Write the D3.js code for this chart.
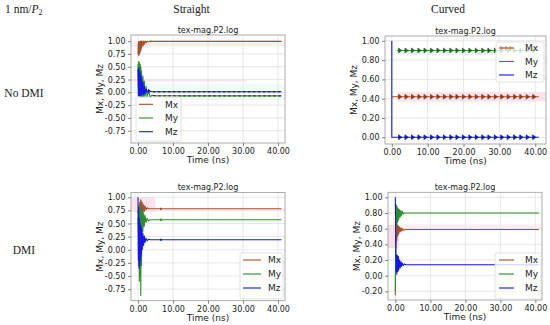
<!DOCTYPE html>
<html><head><meta charset="utf-8">
<script src="https://cdn.jsdelivr.net/npm/d3@7"></script>
<style>html,body{margin:0;padding:0;background:#fff;}svg{display:block;}</style>
</head><body>
<svg id="c" width="550" height="325"></svg>
<script>
// ---------- DATA ----------
const seriesNames = ["Mx", "My", "Mz"];
const colLabels = ["Straight", "Curved"];
const rowLabels = ["No DMI", "DMI"];
const xTicks = [0, 10, 20, 30, 40];
const yTicksStraight = [-0.75, -0.5, -0.25, 0, 0.25, 0.5, 0.75, 1.0];
const yTicksCurvedTop = [0, 0.2, 0.4, 0.6, 0.8, 1.0];
const yTicksCurvedBottom = [-0.2, 0, 0.2, 0.4, 0.6, 0.8, 1.0];

// shared sampling times (ns) for the oscillating series
const timeSteps = [0, 0.1, 0.2, 0.3, 0.4, 0.5, 0.6, 0.7, 0.8, 0.9, 1.0, 1.2, 1.4, 1.6, 1.8, 2.0, 2.3, 2.6, 3.0, 3.5, 4.0, 5.0, 41.0];

// Straight, no DMI
const tlMx = [0.75, 0.98, 0.72, 0.99, 0.74, 0.99, 0.78, 1.0, 0.82, 1.0, 0.86, 1.0, 0.9, 1.0, 0.94, 1.0, 0.97, 1.0, 0.99, 1.0, 0.995, 0.995, 0.995];
const tlMy = [0.55, 0.1, 0.6, 0.0, 0.58, -0.05, 0.55, -0.08, 0.5, -0.1, 0.42, -0.1, 0.32, -0.1, 0.22, -0.1, 0.12, -0.1, 0.03, -0.09, -0.06, -0.07, -0.07];
const tlMz = [0.45, -0.07, 0.48, -0.07, 0.42, -0.07, 0.38, -0.06, 0.33, -0.05, 0.28, -0.05, 0.2, -0.04, 0.12, -0.03, 0.07, 0.0, 0.05, 0.02, 0.01, 0.01, 0.01];

// Curved, no DMI
const trMxT = [0, 41], trMxV = [0.42, 0.42];
const trMyT = [1.5, 41], trMyV = [0.9, 0.9];
const trMzT = [0, 0, 41], trMzV = [1.0, 0.0, 0.0];
const trMarkerTimes = [2.3, 4.1, 5.9, 7.7, 9.4, 11.2, 13.0, 14.8, 16.6, 18.3, 20.1, 21.9, 23.7, 25.5, 27.2, 29.0, 30.8, 32.6, 34.4, 36.1, 37.9, 39.7];

// Straight, DMI
const blMx = [0.7, 0.75, 0.65, 0.85, 0.6, 0.9, 0.58, 0.95, 0.6, 0.93, 0.65, 0.9, 0.7, 0.86, 0.73, 0.83, 0.76, 0.8, 0.78, 0.78, 0.78, 0.78, 0.78];
const blMy = [0.6, 0.3, -0.3, 0.6, -0.6, 0.75, -0.5, 0.85, -0.87, 0.8, -0.3, 0.75, 0.35, 0.7, 0.45, 0.65, 0.52, 0.6, 0.55, 0.57, 0.57, 0.57, 0.57];
const blMz = [1.0, -0.2, 0.8, -0.35, 0.6, -0.3, 0.5, -0.2, 0.45, -0.1, 0.4, 0.0, 0.32, 0.08, 0.26, 0.14, 0.22, 0.17, 0.2, 0.19, 0.19, 0.19, 0.19];
const blBlipTimes = [6.3, 6.8];

// Curved, DMI
const brMx = [-0.25, 0.35, 0.4, 0.65, 0.45, 0.65, 0.5, 0.64, 0.52, 0.63, 0.54, 0.62, 0.56, 0.61, 0.57, 0.6, 0.58, 0.59, 0.59, 0.59, 0.59, 0.59, 0.59];
const brMy = [-0.2, 0.6, 0.7, 0.9, 0.65, 0.88, 0.68, 0.86, 0.7, 0.85, 0.72, 0.84, 0.75, 0.83, 0.77, 0.82, 0.79, 0.8, 0.8, 0.8, 0.8, 0.8, 0.8];
const brMz = [1.0, 0.5, 0.05, 0.27, 0.02, 0.26, 0.05, 0.25, 0.06, 0.24, 0.08, 0.2, 0.1, 0.18, 0.12, 0.16, 0.13, 0.15, 0.14, 0.14, 0.14, 0.14, 0.14];

// ---------- STYLE / LAYOUT ----------
const colors = { Mx: "#a6502a", My: "#2a8f2a", Mz: "#1515ee" };
const zip = (ts, vs) => ts.map((t, i) => [t, vs[i]]);
const FONT = "'DejaVu Sans', sans-serif";

const panels = [
  { key: "tl", left: 131, right: 285, top: 35, bottom: 143, xDom: [-2, 42], yDom: [-0.99, 1.12], yTicks: yTicksStraight,
    series: { Mx: zip(timeSteps, tlMx), My: zip(timeSteps, tlMy), Mz: zip(timeSteps, tlMz) },
    dashedFrom: 3, legend: { x: 136, y: 97, w: 45, h: 44, lineX: 139, lineLen: 14, textX: 165, rows: [104.3, 118, 131.7] },
    bands: [[-2, 42, 0.9, 0.97, "#fdeef4"], [-2, 31, 0.215, 0.245, "#fbe1ee"], [-2, 42, 0.03, 0.17, "#f0fbfa"], [-2, 42, -0.15, -0.09, "#effaf9"]] },
  { key: "tr", left: 385, right: 546, top: 36, bottom: 144, xDom: [-1.9, 43], yDom: [-0.07, 1.05], yTicks: yTicksCurvedTop,
    series: { Mx: zip(trMxT, trMxV), My: zip(trMyT, trMyV), Mz: zip(trMzT, trMzV) },
    markers: true, legend: { x: 496, y: 42, w: 48, h: 40, lineX: 499, lineLen: 15, textX: 525, rows: [48, 61.5, 75] },
    bands: [[1.5, 43, 0.37, 0.47, "#fde3ee"], [1.5, 31, 0.855, 0.895, "#e6faf4"]] },
  { key: "bl", left: 131, right: 285, top: 192.5, bottom: 300.7, xDom: [-2, 42], yDom: [-0.97, 1.09], yTicks: yTicksStraight,
    series: { Mx: zip(timeSteps, blMx), My: zip(timeSteps, blMy), Mz: zip(timeSteps, blMz) },
    blips: true, legend: { x: 240, y: 253, w: 43, h: 46, lineX: 243, lineLen: 18, textX: 268, rows: [260, 274, 288] },
    bands: [[-2, 5, 0.72, 1.0, "#fbe2ef"], [5, 42, 0.73, 0.79, "#fdf1f6"]] },
  { key: "br", left: 388, right: 542, top: 192.3, bottom: 300, xDom: [-2.1, 41.9], yDom: [-0.31, 1.064], yTicks: yTicksCurvedBottom,
    series: { Mx: zip(timeSteps, brMx), My: zip(timeSteps, brMy), Mz: zip(timeSteps, brMz) },
    legend: { x: 495, y: 253, w: 46, h: 46, lineX: 499, lineLen: 15, textX: 525, rows: [260, 274, 288] },
    bands: [[-2.1, 1, 0.35, 0.65, "#fbdcea"], [1, 42, 0.575, 0.655, "#fdeef4"]] }
];

const svg = d3.select("#c");
const fmt = v => d3.format(".2f")(v).replace("\u2212", "-");

panels.forEach(p => {
  const g = svg.append("g");
  const x = d3.scaleLinear().domain(p.xDom).range([p.left, p.right]);
  const y = d3.scaleLinear().domain(p.yDom).range([p.bottom, p.top]);
  const clipId = "clip-" + p.key;
  g.append("clipPath").attr("id", clipId).append("rect")
    .attr("x", p.left).attr("y", p.top).attr("width", p.right - p.left).attr("height", p.bottom - p.top);

  // artifact colour bands
  const bg = g.append("g").attr("clip-path", `url(#${clipId})`);
  p.bands.forEach(b => {
    bg.append("rect").attr("x", x(b[0])).attr("width", x(b[1]) - x(b[0]))
      .attr("y", y(b[3])).attr("height", y(b[2]) - y(b[3])).attr("fill", b[4]);
  });

  // grid
  g.append("g").selectAll("line").data(xTicks).join("line")
    .attr("x1", d => x(d)).attr("x2", d => x(d)).attr("y1", p.top).attr("y2", p.bottom)
    .attr("stroke", "#e2e2e2").attr("stroke-width", 0.8);
  g.append("g").selectAll("line").data(p.yTicks).join("line")
    .attr("y1", d => y(d)).attr("y2", d => y(d)).attr("x1", p.left).attr("x2", p.right)
    .attr("stroke", "#e2e2e2").attr("stroke-width", 0.8);

  // series
  const line = d3.line().x(d => x(d[0])).y(d => y(d[1]));
  const sg = g.append("g").attr("clip-path", `url(#${clipId})`);
  seriesNames.forEach(name => {
    sg.append("path").datum(p.series[name]).attr("d", line)
      .attr("fill", "none").attr("stroke", colors[name]).attr("stroke-width", 1.1).attr("stroke-linejoin", "round");
  });
  if (p.dashedFrom !== undefined) {
    [["My", "#1b2a12"], ["Mz", "#0a0a70"]].forEach(([name, c]) => {
      sg.append("path").datum(p.series[name].filter(d => d[0] >= p.dashedFrom)).attr("d", line)
        .attr("fill", "none").attr("stroke", c).attr("stroke-width", 1).attr("stroke-dasharray", "2.5,2.5");
    });
  }
  if (p.blips) {
    seriesNames.forEach(name => {
      const v = p.series[name][p.series[name].length - 1][1];
      sg.append("path").datum(blBlipTimes.map(t => [t, v])).attr("d", line)
        .attr("stroke", colors[name]).attr("stroke-width", 2.2).attr("fill", "none");
    });
  }
  if (p.markers) {
    const mcol = { Mx: "#8e3a18", My: "#1d6a1d", Mz: "#1010d0" };
    seriesNames.forEach(name => {
      const v = p.series[name][p.series[name].length - 1][1];
      sg.append("g").selectAll("path").data(trMarkerTimes).join("path")
        .attr("transform", t => `translate(${x(t)},${y(v)})`)
        .attr("d", "M-1.4,-2.3 L1.8,0 L-1.4,2.3 Z M-1.4,-2.6 L-1.4,2.6")
        .attr("fill", mcol[name]).attr("stroke", mcol[name]).attr("stroke-width", 0.6);
    });
  }

  // frame
  g.append("rect").attr("x", p.left).attr("y", p.top).attr("width", p.right - p.left).attr("height", p.bottom - p.top)
    .attr("fill", "none").attr("stroke", "#9a9a9a").attr("stroke-width", 0.8);

  // axes
  const ay = g.append("g").attr("transform", `translate(${p.left},0)`)
    .call(d3.axisLeft(y).tickValues(p.yTicks).tickFormat(fmt).tickSize(3).tickPadding(2.5));
  const ax = g.append("g").attr("transform", `translate(0,${p.bottom})`)
    .call(d3.axisBottom(x).tickValues(xTicks).tickFormat(fmt).tickSize(3).tickPadding(2.5));
  [ax, ay].forEach(a => {
    a.select(".domain").remove();
    a.selectAll(".tick line").attr("stroke", "#666").attr("stroke-width", 0.8);
    a.selectAll(".tick text").attr("font-family", FONT).attr("font-size", 8).attr("fill", "#222");
  });

  // title & labels
  g.append("text").attr("x", (p.left + p.right) / 2).attr("y", p.top - 2.5).attr("text-anchor", "middle")
    .attr("font-family", FONT).attr("font-size", 8).attr("fill", "#222").text("tex-mag.P2.log");
  g.append("text").attr("x", (p.left + p.right) / 2).attr("y", p.bottom + 20).attr("text-anchor", "middle")
    .attr("font-family", FONT).attr("font-size", 9).attr("fill", "#222").text("Time (ns)");
  g.append("text").attr("transform", `translate(${p.left - 28},${(p.top + p.bottom) / 2}) rotate(-90)`)
    .attr("text-anchor", "middle").attr("font-family", FONT).attr("font-size", 9).attr("fill", "#222")
    .text("Mx, My, Mz");

  // legend
  const L = p.legend;
  const lg = g.append("g");
  lg.append("rect").attr("x", L.x).attr("y", L.y).attr("width", L.w).attr("height", L.h).attr("rx", 2)
    .attr("fill", "#fff").attr("fill-opacity", 0.8).attr("stroke", "#dcdcdc").attr("stroke-width", 0.8);
  seriesNames.forEach((name, i) => {
    lg.append("line").attr("x1", L.lineX).attr("x2", L.lineX + L.lineLen).attr("y1", L.rows[i]).attr("y2", L.rows[i])
      .attr("stroke", colors[name]).attr("stroke-width", 1.1);
    lg.append("text").attr("x", L.textX).attr("y", L.rows[i] + 3.3).attr("font-family", FONT).attr("font-size", 9)
      .attr("fill", "#222").text(name);
  });
  if (p.markers) {
    [0.2, 0.5, 0.8].forEach(f => {
      lg.append("path").attr("transform", `translate(${L.lineX + f * L.lineLen},${L.rows[0]})`)
        .attr("d", "M-1.4,-2.2 L1.8,0 L-1.4,2.2 Z").attr("fill", "#b88a60");
    });
  }
});

// headers
const SERIF = "'Liberation Serif', 'DejaVu Serif', serif";
const hdr = svg.append("text").attr("x", 5).attr("y", 12.5).attr("font-family", SERIF).attr("font-size", 11.5).attr("fill", "#222");
hdr.append("tspan").text("1 nm/");
hdr.append("tspan").attr("font-style", "italic").text("P");
hdr.append("tspan").attr("font-size", 8).attr("dy", 2).text("2");
svg.selectAll(".colhdr").data(colLabels).join("text").attr("class", "colhdr")
  .attr("x", (d, i) => [191.5, 448][i]).attr("y", 12.5).attr("text-anchor", "middle")
  .attr("font-family", SERIF).attr("font-size", 11.5).attr("fill", "#222").text(d => d);
svg.selectAll(".rowhdr").data(rowLabels).join("text").attr("class", "rowhdr")
  .attr("x", (d, i) => [24, 24][i]).attr("y", (d, i) => [97, 254][i]).attr("text-anchor", "middle")
  .attr("font-family", SERIF).attr("font-size", 11.5).attr("fill", "#222").text(d => d);
</script>
</body></html>
